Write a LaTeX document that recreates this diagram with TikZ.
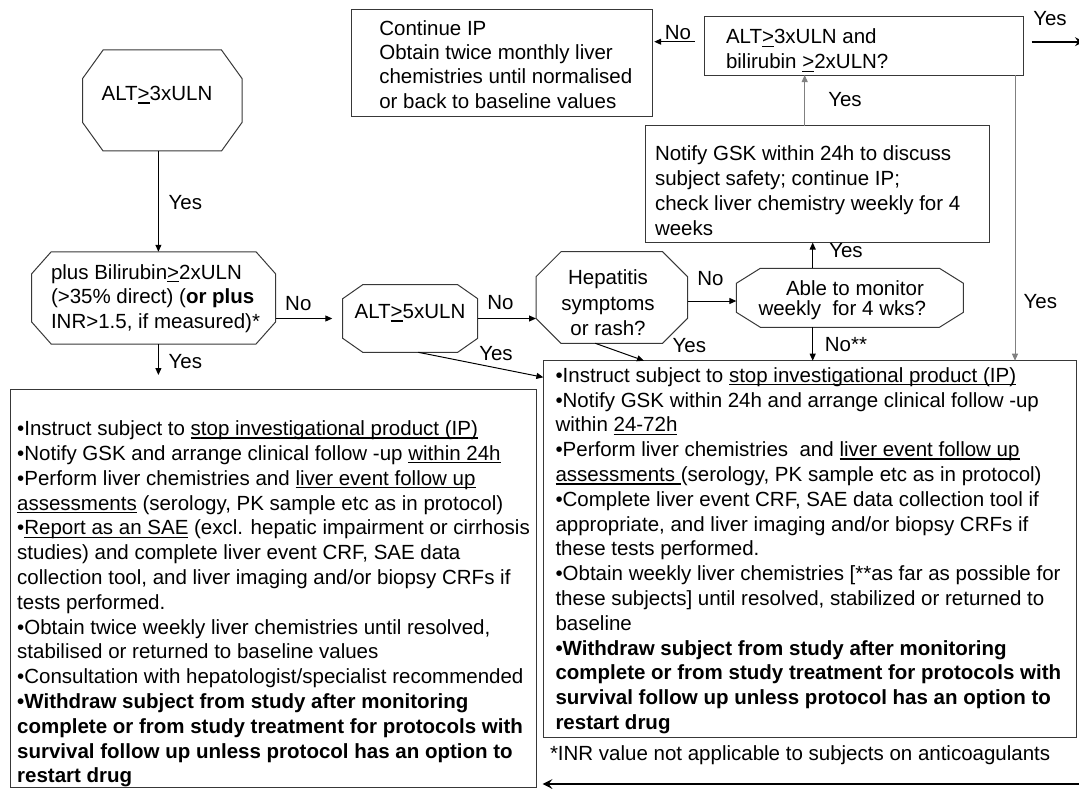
\documentclass[tikz,border=0pt]{standalone}
\usepackage{fontspec}
\setmainfont{Liberation Sans}
\usetikzlibrary{arrows.meta,calc}

% underline drawn as a rule under a box of text
\newsavebox\undlbox
\newcommand\undl[1]{\sbox\undlbox{#1}\rlap{\rule[-3pt]{\wd\undlbox}{1.3pt}}\usebox{\undlbox}}

% octagon drawn round a (borderless) rectangular node: #1 node, #2 x-chamfer, #3 y-chamfer
\newcommand\octagonround[3]{%
  \draw[octline] ($(#1.north west)+(#2,0)$) -- ($(#1.north east)+(-#2,0)$)
    -- ($(#1.north east)+(0,#3)$) -- ($(#1.south east)+(0,-#3)$)
    -- ($(#1.south east)+(-#2,0)$) -- ($(#1.south west)+(#2,0)$)
    -- ($(#1.south west)+(0,-#3)$) -- ($(#1.north west)+(0,#3)$) -- cycle;}

\tikzset{
  every node/.style={font=\fontsize{20.5}{24.8}\selectfont, inner sep=0pt, outer sep=0pt},
  frame/.style n args={2}{draw=black!78, line width=1pt, rectangle,
    minimum width=#1, minimum height=#2},
  octnode/.style n args={2}{rectangle, minimum width=#1, minimum height=#2},
  octline/.style={draw=black!78, line width=1pt, line join=miter},
  txt/.style={align=left, anchor=base west},
  lbl/.style={anchor=center},
  arr/.style={line width=1pt, -{Triangle[length=7pt,width=6pt]}},
  garr/.style={arr, draw=black!50},
  bigarr/.style={line width=2.4pt, -{Stealth[length=10pt,width=10pt,inset=4pt]}},
}

\begin{document}
\begin{tikzpicture}[x=1pt,y=-1pt]
\useasboundingbox (0,0) rectangle (1079,789);

% ---------- frames ----------
\node[frame={301}{107.7}]   (cont)   at (502.2,62.9)  {};
\node[frame={319}{58.3}]    (top)    at (863.5,45.9)  {};
\node[frame={344}{116.8}]   (notify) at (817,184.1)   {};
\node[frame={525.7}{398}]   (lbox)   at (273.2,588)   {};
\node[frame={532.6}{377}]   (rbox)   at (809.7,549.2) {};

% ---------- decision octagons ----------
\node[octnode={159.4}{101}]  (octA) at (162.3,100.5) {};
\node[octnode={243.8}{92.3}] (octB) at (153.6,297.9) {};
\node[octnode={135}{67.6}]   (alt5) at (410.2,318.5) {};
\node[octnode={151.6}{91.6}] (hep)  at (611.8,297.5) {};
\node[octnode={227.1}{59}]   (able) at (849.9,297.8) {};
\octagonround{octA}{20.5}{28.5}
\octagonround{octB}{19.5}{22}
\octagonround{alt5}{20}{14}
\octagonround{hep}{25}{25}
\octagonround{able}{24}{15}

% ---------- texts (anchor = baseline of the last line) ----------
\node[lbl] (octAtext) at (157,95) {ALT\undl{>}3xULN};
\node[txt] (octBtext) at (51,328.6) {plus Bilirubin\undl{>}2xULN\\
  (>35\% direct) (\textbf{or plus}\\
  INR>1.5, if measured)*};
\node[lbl] (alt5text) at (410,313) {ALT\undl{>}5xULN};
\node[align=center, anchor=base, font=\fontsize{20.5}{25.5}\selectfont] (heptext) at (608,335.6)
  {Hepatitis\\symptoms\\or rash?};
\node[txt, font=\fontsize{20.5}{20}\selectfont] (abletext) at (758.5,315.6)
  {\hspace*{27.5pt}Able to monitor\\weekly\ \ for 4 wks?};

\node[txt, font=\fontsize{20.5}{24.4}\selectfont] (conttext) at (379.3,108.3)
  {Continue IP\\
   Obtain twice monthly liver\\
   chemistries until normalised\\
   or back to baseline values};

\node[txt, font=\fontsize{20.5}{25}\selectfont] (toptext) at (726,69)
  {ALT\undl{>}3xULN and\\
   bilirubin \undl{>}2xULN?};

\node[txt, font=\fontsize{20.5}{25}\selectfont] (notifytext) at (655,235.6)
  {Notify GSK within 24h to discuss\\
   subject safety; continue IP;\\
   check liver chemistry weekly for 4\\
   weeks};

\node[txt] (ltext) at (17.2,782.8)
  {•Instruct subject to \undl{stop investigational product (IP)}\\
   •Notify GSK and arrange clinical follow -up \undl{within 24h}\\
   •Perform liver chemistries and \undl{liver event follow up}\\
   \undl{assessments} (serology, PK sample etc as in protocol)\\
   •\undl{Report as an SAE} (excl. hepatic impairment or cirrhosis\\
   studies) and complete liver event CRF, SAE data\\
   collection tool, and liver imaging and/or biopsy CRFs if\\
   tests performed.\\
   •Obtain twice weekly liver chemistries until resolved,\\
   stabilised or returned to baseline values\\
   •Consultation with hepatologist/specialist recommended\\
   \textbf{•Withdraw subject from study after monitoring}\\
   \textbf{complete or from study treatment for protocols with}\\
   \textbf{survival follow up unless protocol has an option to}\\
   \textbf{restart drug}};

\node[txt] (rtext) at (555.5,729.5)
  {•Instruct subject to \undl{stop investigational product (IP)}\\
   •Notify GSK within 24h and arrange clinical follow -up\\
   within \undl{24-72h}\\
   •Perform liver chemistries \ and \undl{liver event follow up}\\
   \undl{assessments }(serology, PK sample etc as in protocol)\\
   •Complete liver event CRF, SAE data collection tool if\\
   appropriate, and liver imaging and/or biopsy CRFs if\\
   these tests performed.\\
   •Obtain weekly liver chemistries [**as far as possible for\\
   these subjects] until resolved, stabilized or returned to\\
   baseline\\
   \textbf{•Withdraw subject from study after monitoring}\\
   \textbf{complete or from study treatment for protocols with}\\
   \textbf{survival follow up unless protocol has an option to}\\
   \textbf{restart drug}};

\node[txt] (footnote) at (550,760.6)
  {*INR value not applicable to subjects on anticoagulants};

% ---------- connectors ----------
\draw[arr] ([xshift=-3.9pt]octA.south) -- ([xshift=-3.9pt]octA.south |- octB.north);
\coordinate (bEnd) at (158.4,375);
\draw[arr] (octB.south -| bEnd) -- (bEnd);
\draw[arr, shorten >=10.4pt] (octB.east |- alt5.west) -- (alt5.west);
\draw[arr] (alt5.east) -- (alt5.east -| hep.west);
\draw[arr] ([xshift=8.1pt]alt5.south) -- ([yshift=-16.6pt]rbox.north west);
\draw[arr] ([yshift=-3.5pt]hep.east) -- ([yshift=-3.5pt]hep.east -| able.west);
\draw[arr] ([xshift=-16.5pt]hep.south) -- ([xshift=100.6pt]rbox.north west);
\draw[arr] ([xshift=-37.2pt]able.north) -- ([xshift=-37.2pt]able.north |- notify.south);
\draw[arr] ([xshift=-37.2pt]able.south) -- ([xshift=-37.2pt]able.south |- rbox.north);
\draw[garr] ([xshift=-12.3pt]notify.north) -- ([xshift=-12.3pt]notify.north |- top.south);
\draw[arr, shorten >=10.8pt] ([xshift=-9.3pt,yshift=4.2pt]top.west) -- ([xshift=-9.3pt,yshift=4.2pt]top.west -| cont.east);
\coordinate (yesOut) at (1084,41.7);
\draw[line width=2pt, -{Stealth[length=9pt,width=9pt,inset=3pt]}] ([xshift=8.7pt,yshift=4.2pt]top.east) -- (yesOut);
\draw[garr] ([xshift=-8pt]top.south east) -- ([xshift=-8pt]top.south east |- rbox.north);
\coordinate (backIn) at (1082,784);
\draw[bigarr, shorten >=6.5pt] (backIn) -- (backIn -| lbox.east);

% ---------- connector labels ----------
\node[lbl] (yesAB)    at (185.4,203)   {Yes};
\node[lbl] (yesBdown) at (185.4,361.7) {Yes};
\node[lbl] (noB)      at (298.3,303.3) {No};
\node[lbl] (noAlt5)   at (500.5,303)   {No};
\node[lbl] (yesAlt5)  at (496,354)     {Yes};
\node[lbl] (noHep)    at (710.5,278.3) {No};
\node[lbl] (yesHep)   at (689.3,346)   {Yes};
\node[lbl] (yesAble)  at (846,251)     {Yes};
\node[lbl] (noAble)   at (846,345)     {No**};
\node[lbl] (yesRight) at (1040.3,301.7){Yes};
\node[lbl] (yesNotify) at (845,100)    {Yes};
\node[lbl] (noTop)    at (678,33)      {No};
\node[lbl] (yesTop)   at (1050,18.3)   {Yes};
\end{tikzpicture}
\end{document}
